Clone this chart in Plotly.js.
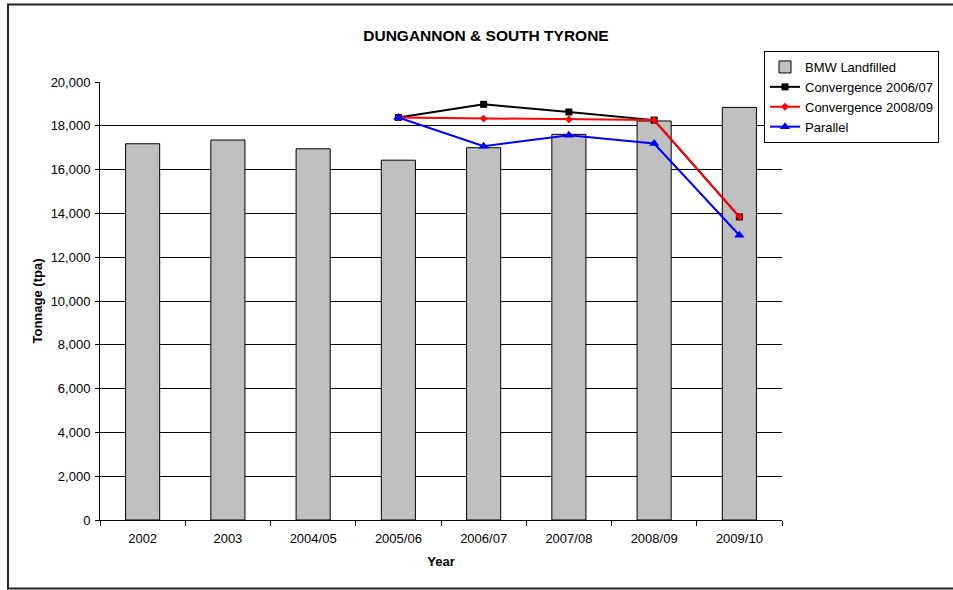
<!DOCTYPE html>
<html>
<head>
<meta charset="utf-8">
<script src="https://cdn.plot.ly/plotly-3.0.1.min.js"></script>
<style>
  html, body { margin: 0; padding: 0; background: #fff; }
  #chart { width: 953px; height: 590px; }
</style>
</head>
<body>
<div id="chart"></div>
<script>
const years = ["2002", "2003", "2004/05", "2005/06", "2006/07", "2007/08", "2008/09", "2009/10"];
const bmwLandfilled = [17180, 17350, 16950, 16430, 17000, 17610, 18220, 18840];
const convergence0607 = [null, null, null, 18380, 18980, 18630, 18260, 13840];
const convergence0809 = [null, null, null, 18380, 18330, 18290, 18260, 13840];
const parallel = [null, null, null, 18380, 17070, 17570, 17190, 13000];
const yTicks = [0, 2000, 4000, 6000, 8000, 10000, 12000, 14000, 16000, 18000, 20000];

const FONT = "Liberation Sans, Arial, sans-serif";

const traces = [
  {
    type: "bar", name: "BMW Landfilled", x: years, y: bmwLandfilled,
    marker: { color: "#C0C0C0", line: { color: "#000", width: 1 } }
  },
  {
    type: "scatter", mode: "lines+markers", name: "Convergence 2006/07", x: years, y: convergence0607,
    line: { color: "#000", width: 2 }, marker: { symbol: "square", size: 7, color: "#000" }
  },
  {
    type: "scatter", mode: "lines+markers", name: "Convergence 2008/09", x: years, y: convergence0809,
    line: { color: "#FF0000", width: 2 }, marker: { symbol: "diamond", size: 6, color: "#FF0000" }
  },
  {
    type: "scatter", mode: "lines+markers", name: "Parallel", x: years, y: parallel,
    line: { color: "#0000FF", width: 2 }, marker: { symbol: "triangle-up", size: 9, color: "#0000FF" }
  }
];

const layout = {
  width: 953, height: 590,
  margin: { l: 100, r: 171, t: 82, b: 70 },
  paper_bgcolor: "#fff", plot_bgcolor: "#fff",
  font: { family: FONT, size: 13, color: "#000" },
  bargap: 0.6,
  showlegend: true,
  title: {
    text: "<b>DUNGANNON &amp; SOUTH TYRONE</b>",
    font: { family: FONT, size: 15.5, color: "#000" },
    xref: "container", x: 486 / 953, xanchor: "center",
    yref: "container", y: 1 - 36 / 590, yanchor: "middle"
  },
  xaxis: {
    type: "category",
    categoryorder: "array", categoryarray: years,
    tickson: "boundaries",
    ticks: "outside", ticklen: 5, tickcolor: "#000",
    ticklabelstandoff: 6,
    showline: true, linecolor: "#000", linewidth: 1,
    showgrid: false, zeroline: false,
    tickfont: { family: FONT, size: 13, color: "#000" },
    title: { text: "<b>Year</b>", font: { family: FONT, size: 13, color: "#000" }, standoff: 12 }
  },
  yaxis: {
    range: [0, 20000],
    tickvals: yTicks,
    tickformat: ",d",
    ticks: "outside", ticklen: 4, tickcolor: "#000",
    ticklabelstandoff: 2,
    showline: true, linecolor: "#000", linewidth: 1,
    showgrid: true, gridcolor: "#000", gridwidth: 1,
    zeroline: false,
    tickfont: { family: FONT, size: 13, color: "#000" },
    title: { text: "<b>Tonnage (tpa)</b>", font: { family: FONT, size: 13, color: "#000" }, standoff: 5 }
  },
  legend: {
    x: (764 - 100) / 682, xanchor: "left",
    y: (520 - 51) / 438, yanchor: "top",
    bgcolor: "#fff", bordercolor: "#000", borderwidth: 1,
    font: { family: FONT, size: 13, color: "#000" },
    traceorder: "normal",
    itemwidth: 30,
    tracegroupgap: 0
  },
  shapes: [
    {
      type: "rect", xref: "paper", yref: "paper",
      x0: (8 - 100) / 682, x1: (960 - 100) / 682,
      y0: (520 - 588.5) / 438, y1: (520 - 4.5) / 438,
      line: { color: "#222", width: 2 }, fillcolor: "rgba(0,0,0,0)", layer: "below"
    }
  ]
};

Plotly.newPlot("chart", traces, layout, { displayModeBar: false, staticPlot: true });
</script>
</body>
</html>
